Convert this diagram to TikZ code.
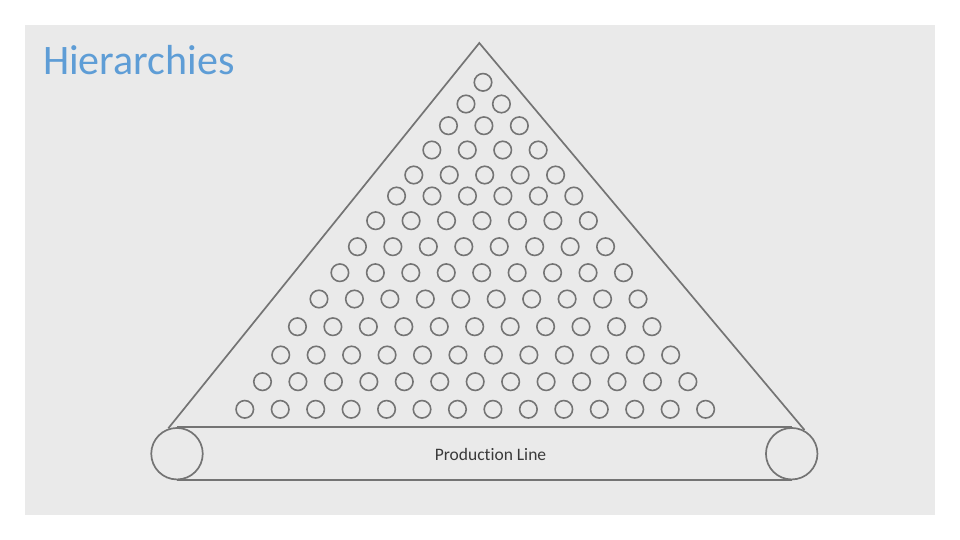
\documentclass[tikz,border=0pt]{standalone}
\usepackage{fontspec}
\setmainfont{Carlito}[Ligatures=NoCommon]
\usetikzlibrary{positioning}
\definecolor{slide}{HTML}{EAEAEA}
\definecolor{inkgray}{HTML}{747474}
\definecolor{titleblue}{HTML}{5E9DD6}
\definecolor{textgray}{HTML}{3A3A3A}

\begin{document}
\begin{tikzpicture}[x=1pt, y=-1pt,
    worker/.style={shape=circle, draw=inkgray, line width=1.6pt, inner sep=0pt, minimum size=17.5pt},
    roller/.style={shape=circle, draw=inkgray, line width=1.7pt, inner sep=0pt, minimum size=51.5pt}]
    \useasboundingbox (0,0) rectangle (960,540);
    \fill[slide] (25,25) rectangle (935,515);

    \node[anchor=base west, text=titleblue, font=\fontsize{42}{50}\selectfont, inner sep=0pt] (title) at (43,75) {Hierarchies};

    % pyramid
    \coordinate (top) at (479.3,43);
    \coordinate (baseL) at (168.3,428.3);
    \coordinate (baseR) at (804.5,430);
    \draw[inkgray, line width=1.7pt] (baseL) -- (top) -- (baseR);

    % rows of workers: count/y/centre
    \foreach \n/\y/\cx in {1/82.3/483, 2/104/483.7, 3/125.7/483.9, 4/150/485,
                           5/175/484.7, 6/196/485.2, 7/220.7/482, 8/246.7/481.5,
                           9/272.7/481.7, 10/299/478.5, 11/326.7/474.7, 12/355/475.7,
                           13/381.7/475.2, 14/409.3/475.2}
      \foreach \k in {1,...,\n}
        \node[worker] (w-\n-\k) at ({\cx + (\k - (\n+1)/2)*35.45}, \y) {};

    % conveyor
    \node[roller] (rollL) at (177,453.7) {};
    \node[roller] (rollR) at (791.7,453.7) {};
    \draw[inkgray, line width=1.7pt] (rollL.north) -- (rollR.north);
    \draw[inkgray, line width=1.7pt] (rollL.south) -- (rollR.south);
    \node[anchor=base, text=textgray, font=\fontsize{17.5}{20}\selectfont, inner sep=0pt] (belt) at (490.5,460) {Production Line};
\end{tikzpicture}
\end{document}
